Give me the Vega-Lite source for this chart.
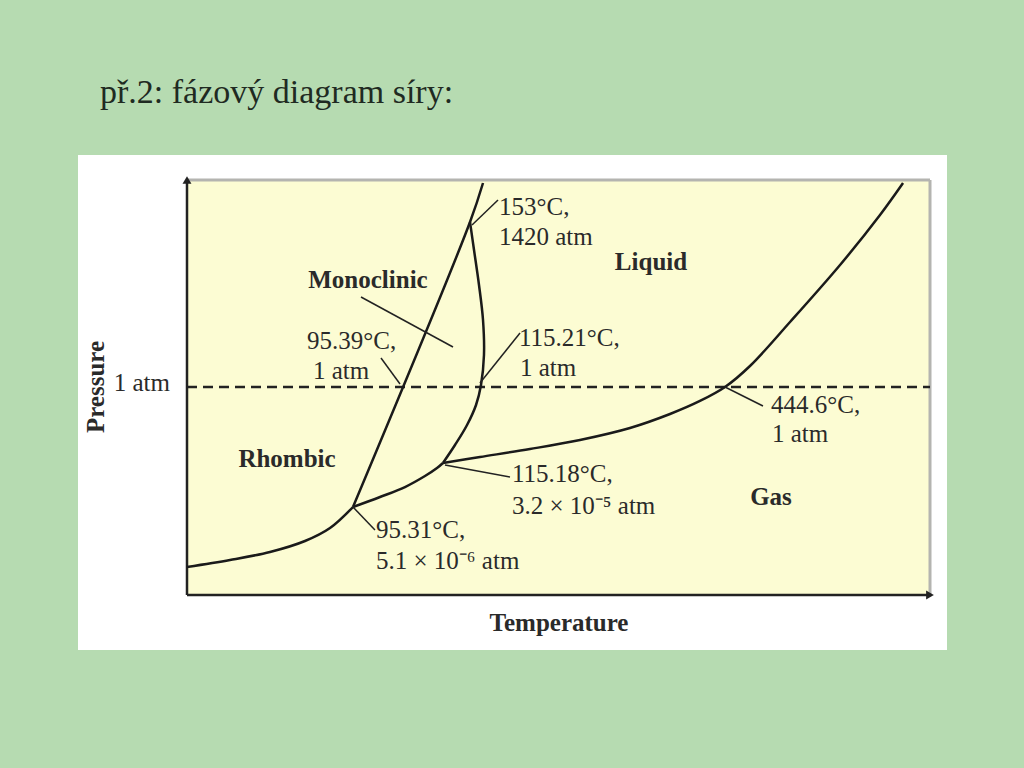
{
  "$schema": "https://vega.github.io/schema/vega-lite/v6.json",
  "width": 743,
  "height": 415,
  "autosize": {"type": "none"},
  "padding": {"left": 187, "top": 180, "right": 94, "bottom": 173},
  "background": "#b6dbb1",
  "config": {"view": {"stroke": null}},
  "datasets": {
    "frame": [{"t": -14.67, "t2": 102.29, "p": -13.25, "p2": 106.02}],
    "plotarea": [{"t": 0, "t2": 100, "p": 0, "p2": 100}],
    "border": [
      {"seg": "top", "i": 0, "t": 0, "p": 100},
      {"seg": "top", "i": 1, "t": 100, "p": 100},
      {"seg": "right", "i": 0, "t": 100, "p": 100},
      {"seg": "right", "i": 1, "t": 100, "p": 0}
    ],
    "axes": [
      {"seg": "y", "i": 0, "t": 0, "p": 0},
      {"seg": "y", "i": 1, "t": 0, "p": 100},
      {"seg": "x", "i": 0, "t": 0, "p": 0},
      {"seg": "x", "i": 1, "t": 100, "p": 0}
    ],
    "arrows": [
      {"dir": "up", "t": 0, "p": 100},
      {"dir": "right", "t": 100, "p": 0}
    ],
    "oneatm": [{"t": 0, "p": 50.12}, {"t": 100, "p": 50.12}],
    "curves": [
      {"seg": "rg", "i": 0, "t": 0, "p": 6.75},
      {"seg": "rg", "i": 1, "t": 5.79, "p": 8.43},
      {"seg": "rg", "i": 2, "t": 11.17, "p": 10.36},
      {"seg": "rg", "i": 3, "t": 15.88, "p": 13.01},
      {"seg": "rg", "i": 4, "t": 19.25, "p": 16.14},
      {"seg": "rg", "i": 5, "t": 22.34, "p": 21.2},
      {"seg": "rm", "i": 0, "t": 22.34, "p": 21.2},
      {"seg": "rm", "i": 1, "t": 38.09, "p": 89.88},
      {"seg": "rm", "i": 2, "t": 39.84, "p": 99.28},
      {"seg": "mg", "i": 0, "t": 22.34, "p": 21.2},
      {"seg": "mg", "i": 1, "t": 25.98, "p": 23.61},
      {"seg": "mg", "i": 2, "t": 29.34, "p": 26.02},
      {"seg": "mg", "i": 3, "t": 32.03, "p": 28.67},
      {"seg": "mg", "i": 4, "t": 33.65, "p": 30.6},
      {"seg": "mg", "i": 5, "t": 34.45, "p": 31.81},
      {"seg": "ml", "i": 0, "t": 34.45, "p": 31.81},
      {"seg": "ml", "i": 1, "t": 36.07, "p": 36.14},
      {"seg": "ml", "i": 2, "t": 37.69, "p": 40.96},
      {"seg": "ml", "i": 3, "t": 38.9, "p": 45.78},
      {"seg": "ml", "i": 4, "t": 39.57, "p": 50.6},
      {"seg": "ml", "i": 5, "t": 39.97, "p": 57.83},
      {"seg": "ml", "i": 6, "t": 39.84, "p": 66.27},
      {"seg": "ml", "i": 7, "t": 39.3, "p": 74.7},
      {"seg": "ml", "i": 8, "t": 38.63, "p": 83.13},
      {"seg": "ml", "i": 9, "t": 38.09, "p": 89.88},
      {"seg": "lg", "i": 0, "t": 34.45, "p": 31.81},
      {"seg": "lg", "i": 1, "t": 39.43, "p": 33.25},
      {"seg": "lg", "i": 2, "t": 46.16, "p": 35.18},
      {"seg": "lg", "i": 3, "t": 52.89, "p": 37.35},
      {"seg": "lg", "i": 4, "t": 59.62, "p": 40.24},
      {"seg": "lg", "i": 5, "t": 65.01, "p": 43.61},
      {"seg": "lg", "i": 6, "t": 69.04, "p": 46.75},
      {"seg": "lg", "i": 7, "t": 72.41, "p": 50.12},
      {"seg": "lg", "i": 8, "t": 75.77, "p": 55.18},
      {"seg": "lg", "i": 9, "t": 81.16, "p": 65.78},
      {"seg": "lg", "i": 10, "t": 87.89, "p": 79.52},
      {"seg": "lg", "i": 11, "t": 93.27, "p": 91.57},
      {"seg": "lg", "i": 12, "t": 96.37, "p": 99.28}
    ],
    "leaders": [
      {"seg": "mono", "i": 0, "t": 23.42, "p": 71.81},
      {"seg": "mono", "i": 1, "t": 35.8, "p": 59.76},
      {"seg": "l9539", "i": 0, "t": 26.11, "p": 57.11},
      {"seg": "l9539", "i": 1, "t": 28.67, "p": 50.84},
      {"seg": "l153", "i": 0, "t": 41.86, "p": 95.18},
      {"seg": "l153", "i": 1, "t": 38.36, "p": 89.16},
      {"seg": "l11521", "i": 0, "t": 44.82, "p": 63.13},
      {"seg": "l11521", "i": 1, "t": 39.43, "p": 51.08},
      {"seg": "l4446", "i": 0, "t": 72.41, "p": 50.12},
      {"seg": "l4446", "i": 1, "t": 77.52, "p": 45.54},
      {"seg": "l11518", "i": 0, "t": 34.72, "p": 31.33},
      {"seg": "l11518", "i": 1, "t": 43.47, "p": 28.43},
      {"seg": "l9531", "i": 0, "t": 22.34, "p": 21.2},
      {"seg": "l9531", "i": 1, "t": 25.3, "p": 15.66}
    ],
    "notes": [
      {"label": "153°C,", "t": 41.99, "p": 93.49},
      {"label": "1420 atm", "t": 41.99, "p": 86.27},
      {"label": "95.39°C,", "t": 16.15, "p": 61.2},
      {"label": "1 atm", "t": 16.96, "p": 53.98},
      {"label": "115.21°C,", "t": 44.68, "p": 61.93},
      {"label": "1 atm", "t": 44.82, "p": 54.7},
      {"label": "444.6°C,", "t": 78.6, "p": 45.78},
      {"label": "1 atm", "t": 78.73, "p": 38.8},
      {"label": "115.18°C,", "t": 43.74, "p": 29.16},
      {"label": "3.2 × 10⁻⁵ atm", "t": 43.74, "p": 21.45},
      {"label": "95.31°C,", "t": 25.44, "p": 15.66},
      {"label": "5.1 × 10⁻⁶ atm", "t": 25.44, "p": 8.19}
    ],
    "phases": [
      {"label": "Liquid", "t": 62.45, "p": 80.24},
      {"label": "Monoclinic", "t": 24.36, "p": 75.9},
      {"label": "Rhombic", "t": 13.46, "p": 32.77},
      {"label": "Gas", "t": 78.6, "p": 23.61},
      {"label": "Temperature", "t": 50.07, "p": -6.75}
    ],
    "ylabel": [{"label": "Pressure", "t": -12.25, "p": 50.12}],
    "ytick": [{"label": "1 atm", "t": -2.29, "p": 51.08}],
    "heading": [{"label": "př.2: fázový diagram síry:", "t": -11.71, "p": 120.96}]
  },
  "encoding": {
    "x": {"field": "t", "type": "quantitative", "scale": {"domain": [0, 100], "nice": false, "zero": false}, "axis": null},
    "y": {"field": "p", "type": "quantitative", "scale": {"domain": [0, 100], "nice": false, "zero": false}, "axis": null}
  },
  "layer": [
    {
      "data": {"name": "frame"},
      "mark": {"type": "rect", "color": "#ffffff"},
      "encoding": {"x2": {"field": "t2"}, "y2": {"field": "p2"}}
    },
    {
      "data": {"name": "plotarea"},
      "mark": {"type": "rect", "color": "#fcfcd3"},
      "encoding": {"x2": {"field": "t2"}, "y2": {"field": "p2"}}
    },
    {
      "data": {"name": "border"},
      "mark": {"type": "line", "color": "#b4b4b0", "strokeWidth": 3},
      "encoding": {"detail": {"field": "seg"}, "order": {"field": "i"}}
    },
    {
      "data": {"name": "axes"},
      "mark": {"type": "line", "color": "#222222", "strokeWidth": 2.5},
      "encoding": {"detail": {"field": "seg"}, "order": {"field": "i"}}
    },
    {
      "data": {"name": "arrows"},
      "mark": {"type": "point", "filled": true, "color": "#222222", "size": 80, "opacity": 1},
      "encoding": {"shape": {"field": "dir", "type": "nominal", "scale": {"domain": ["up", "right"], "range": ["triangle-up", "triangle-right"]}, "legend": null}}
    },
    {
      "data": {"name": "oneatm"},
      "mark": {"type": "line", "color": "#222222", "strokeWidth": 2.5, "strokeDash": [10, 6]},
      "encoding": {}
    },
    {
      "data": {"name": "curves"},
      "mark": {"type": "line", "color": "#1a1a1a", "strokeWidth": 2.5, "interpolate": "catmull-rom"},
      "encoding": {"detail": {"field": "seg"}, "order": {"field": "i"}}
    },
    {
      "data": {"name": "leaders"},
      "mark": {"type": "line", "color": "#222222", "strokeWidth": 1.5},
      "encoding": {"detail": {"field": "seg"}, "order": {"field": "i"}}
    },
    {
      "data": {"name": "notes"},
      "mark": {"type": "text", "align": "left", "baseline": "middle", "font": "Liberation Serif", "fontSize": 25, "color": "#2a2a2a"},
      "encoding": {"text": {"field": "label"}}
    },
    {
      "data": {"name": "phases"},
      "mark": {"type": "text", "align": "center", "baseline": "middle", "font": "Liberation Serif", "fontWeight": "bold", "fontSize": 25, "color": "#2a2a2a"},
      "encoding": {"text": {"field": "label"}}
    },
    {
      "data": {"name": "ylabel"},
      "mark": {"type": "text", "align": "center", "baseline": "middle", "angle": 270, "font": "Liberation Serif", "fontWeight": "bold", "fontSize": 25, "color": "#2a2a2a"},
      "encoding": {"text": {"field": "label"}}
    },
    {
      "data": {"name": "ytick"},
      "mark": {"type": "text", "align": "right", "baseline": "middle", "font": "Liberation Serif", "fontSize": 25, "color": "#2a2a2a"},
      "encoding": {"text": {"field": "label"}}
    },
    {
      "data": {"name": "heading"},
      "mark": {"type": "text", "align": "left", "baseline": "middle", "font": "Liberation Serif", "fontSize": 34, "color": "#1f2a22"},
      "encoding": {"text": {"field": "label"}}
    }
  ]
}
